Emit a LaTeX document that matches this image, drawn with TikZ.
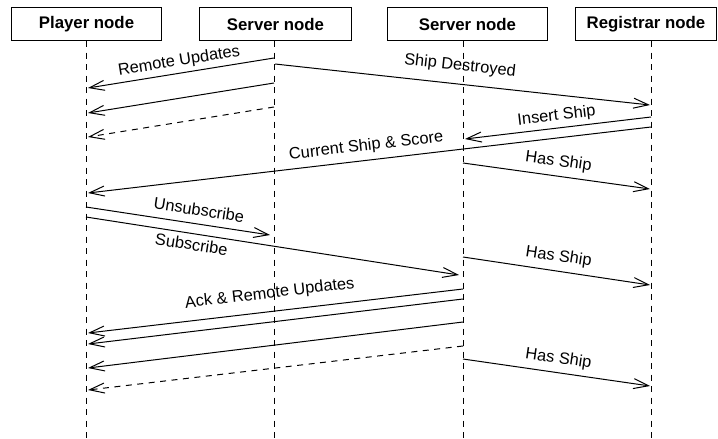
\documentclass[tikz,border=0pt]{standalone}
\usepackage{fontspec}
\setmainfont{Liberation Sans}
\usetikzlibrary{arrows.meta}
\begin{document}
\begin{tikzpicture}[x=1pt,y=-1pt,
  box/.style={draw, line width=1pt, minimum height=33pt, inner sep=0pt,
    font=\bfseries\fontsize{16.8}{19}\selectfont},
  life/.style={line width=1pt, dash pattern=on 6pt off 5.5pt},
  msg/.style={line width=1pt, -{Straight Barb[length=15pt,width=10pt,line width=1pt]}},
  dmsg/.style={msg, dash pattern=on 6pt off 5.5pt},
  lbl/.style={font=\fontsize{16.4}{19}\selectfont, sloped}
]
\useasboundingbox (0,0) rectangle (718,439);
% header boxes
\node[box, minimum width=150pt] (player) at (86.5,24) {Player node};
\node[box, minimum width=152pt] (srvA) at (275.5,24) {Server node};
\node[box, minimum width=160pt] (srvB) at (467.5,24) {Server node};
\node[box, minimum width=141pt] (reg) at (646,24) {Registrar node};
% lifelines
\coordinate (pT) at (86,41);  \coordinate (pB) at (86,439);
\coordinate (aT) at (274,41); \coordinate (aB) at (274,439);
\coordinate (bT) at (463,41); \coordinate (bB) at (463,439);
\coordinate (rT) at (651,41); \coordinate (rB) at (651,439);
\draw[life] (pT) -- (pB);
\draw[life] (aT) -- (aB);
\draw[life] (bT) -- (bB);
\draw[life] (rT) -- (rB);
% message end points
\coordinate (m1s) at (274,58);  \coordinate (m1e) at (88,88);
\coordinate (m2s) at (274,83);  \coordinate (m2e) at (88,113);
\coordinate (m3s) at (274,107); \coordinate (m3e) at (88,137);
\coordinate (m4s) at (275,64);  \coordinate (m4e) at (650,105);
\coordinate (m5s) at (651,117); \coordinate (m5e) at (465,139);
\coordinate (m6s) at (651,127); \coordinate (m6e) at (88,193);
\coordinate (m7s) at (463,163); \coordinate (m7e) at (650,189);
\coordinate (m8s) at (86,207);  \coordinate (m8e) at (270,235);
\coordinate (m9s) at (86,217);  \coordinate (m9e) at (459,275);
\coordinate (m10s) at (463,257); \coordinate (m10e) at (650,285);
\coordinate (m11s) at (463,289); \coordinate (m11e) at (88,333);
\coordinate (m12s) at (463,299); \coordinate (m12e) at (88,344);
\coordinate (m13s) at (463,322); \coordinate (m13e) at (88,368);
\coordinate (m14s) at (463,346); \coordinate (m14e) at (88,390);
\coordinate (m15s) at (463,359); \coordinate (m15e) at (650,386);
% messages
\draw[msg] (m1s) -- node[lbl, above=0.3pt] {Remote Updates} (m1e);
\draw[msg] (m2s) -- (m2e);
\draw[dmsg] (m3s) -- (m3e);
\draw[msg] (m4s) -- node[lbl, above=6.5pt, pos=0.488] {Ship Destroyed} (m4e);
\draw[msg] (m5s) -- node[lbl, above=0.3pt] {Insert Ship} (m5e);
\draw[msg] (m6s) -- node[lbl, above=2.5pt, pos=0.503] {Current Ship \& Score} (m6e);
\draw[msg] (m7s) -- node[lbl, above=2.7pt] {Has Ship} (m7e);
\draw[msg] (m8s) -- node[lbl, above=4.4pt, pos=0.603] {Unsubscribe} (m8e);
\draw[msg] (m9s) -- node[lbl, below=0.8pt, pos=0.287] {Subscribe} (m9e);
\draw[msg] (m10s) -- node[lbl, above=2.7pt] {Has Ship} (m10e);
\draw[msg] (m11s) -- node[lbl, above=6.2pt, pos=0.51] {Ack \& Remote Updates} (m11e);
\draw[msg] (m12s) -- (m12e);
\draw[msg] (m13s) -- (m13e);
\draw[dmsg] (m14s) -- (m14e);
\draw[msg] (m15s) -- node[lbl, above=2.2pt] {Has Ship} (m15e);
\end{tikzpicture}
\end{document}
